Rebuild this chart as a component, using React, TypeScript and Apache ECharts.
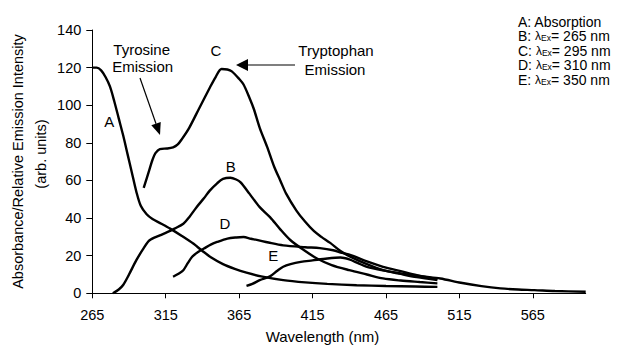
import React, { useEffect, useRef } from "react";
import * as echarts from "echarts";

// Wavelength (nm) / intensity pairs for each trace
const absorption: [number, number][] = [
  [265, 120], [268, 120], [271, 118.5], [274, 115], [277, 110], [280, 102], [283, 93],
  [286, 84], [289, 74], [292, 64], [295, 54], [298, 46.5], [302, 42], [306, 39.5],
  [312, 37], [318, 34.4], [326, 30.5], [334, 26.3], [340, 22.5], [346, 19], [354, 15.5],
  [362, 13], [370, 11], [380, 9], [395, 7], [410, 5.8], [425, 5], [445, 4.3],
  [465, 3.9], [485, 3.6], [500, 3.4],
];

const ex265: [number, number][] = [
  [279, 0], [283, 2], [286, 4.4], [290, 10], [295, 17.6], [300, 24], [304, 28.2],
  [311, 30.8], [316, 32.5], [321, 34.4], [327, 37], [331, 40.5], [336, 45.8],
  [341, 50.5], [345, 54.6], [350, 58.5], [354, 60.8], [359, 61.4], [363, 60.5],
  [366, 59], [372, 53], [379, 45.8], [386, 40.5], [393, 34], [400, 28.2], [409, 23],
  [418, 18.5], [428, 15], [440, 12.3], [452, 10], [463, 7.9], [475, 6.8], [488, 6],
  [500, 5.3],
];

const ex295: [number, number][] = [
  [300, 56], [302, 61], [304, 66], [306, 71], [308, 74.5], [311, 76.7], [316, 77],
  [320, 77.6], [323, 79], [326, 82], [331, 88], [338, 98.7], [345, 109.3], [349, 115],
  [353, 119.3], [357, 119], [360, 118], [365, 114], [368, 111], [372, 104], [375, 98],
  [379, 88], [384, 78], [389, 67], [393, 60], [397, 53], [404, 44], [410, 38],
  [416, 33], [421, 30], [427, 26.8], [434, 22.5], [441, 19.4], [452, 15.5],
  [463, 12.3], [475, 10.3], [486, 8.6], [500, 7],
];

const ex310: [number, number][] = [
  [320, 8.8], [324, 10.5], [327, 12.3], [330, 16], [333, 19.4], [337, 22], [341, 23.8],
  [346, 26], [350, 27.3], [357, 29.1], [363, 29.7], [368, 29.9], [373, 29], [377, 28.4],
  [385, 27], [395, 25.5], [410, 24.5], [420, 24], [429, 22.9], [435, 21.5], [441, 20.3],
  [452, 17], [463, 14.1], [475, 11.8], [486, 9.7], [500, 7.5],
];

const ex350: [number, number][] = [
  [370, 3.9], [374, 5], [379, 7], [386, 9], [391, 12], [395, 14.1], [400, 15.5],
  [407, 16.7], [415, 17.5], [425, 18.5], [434, 19], [440, 18], [446, 16], [452, 14.1],
  [463, 12.2], [475, 10.6], [490, 9], [502, 7.9], [516, 5.6], [530, 3.8], [543, 2.6],
  [555, 2.0], [566, 1.7], [580, 1.2], [601, 0.85],
];

const xTickValues = [265, 315, 365, 415, 465, 515, 565];

const legendLines = [
  "{n|A: Absorption}",
  "{n|B: }{l|λ}{s|Ex}{n|= 265 nm}",
  "{n|C: }{l|λ}{s|Ex}{n|= 295 nm}",
  "{n|D: }{l|λ}{s|Ex}{n|= 310 nm}",
  "{n|E: }{l|λ}{s|Ex}{n|= 350 nm}",
];

const FONT = "'Liberation Sans', Arial, sans-serif";

function arrow(tail: [number, number], tip: [number, number], headLen: number, headHalf: number) {
  const dx = tip[0] - tail[0];
  const dy = tip[1] - tail[1];
  const len = Math.hypot(dx, dy);
  const ux = dx / len;
  const uy = dy / len;
  const bx = tip[0] - ux * headLen;
  const by = tip[1] - uy * headLen;
  const px = -uy * headHalf;
  const py = ux * headHalf;
  return [
    {
      type: "line",
      shape: { x1: tail[0], y1: tail[1], x2: bx, y2: by },
      style: { stroke: "#000", lineWidth: 1.2 },
    },
    {
      type: "polygon",
      shape: { points: [tip, [bx + px, by + py], [bx - px, by - py]] },
      style: { fill: "#000" },
    },
  ];
}

function label(text: string, x: number, y: number, size = 15) {
  return {
    type: "text",
    x,
    y,
    style: {
      text,
      fill: "#000",
      font: `${size}px ${FONT}`,
      textAlign: "center",
      textVerticalAlign: "middle",
    },
  };
}

export default function App() {
  const ref = useRef<HTMLDivElement>(null);

  useEffect(() => {
    document.body.style.margin = "0";
    if (!ref.current) return;
    const chart = echarts.init(ref.current, null, { renderer: "svg" });

    const mk = (name: string, data: [number, number][]) => ({
      name,
      type: "line",
      data,
      smooth: 0.3,
      symbol: "none",
      lineStyle: { color: "#000", width: 2.4 },
      itemStyle: { color: "#000" },
    });

    chart.setOption({
      animation: false,
      backgroundColor: "#fff",
      textStyle: { fontFamily: FONT },
      grid: { left: 92.3, right: 41.3, top: 30, bottom: 51.7, containLabel: false },
      xAxis: {
        type: "value",
        min: 265,
        max: 601,
        interval: 50,
        axisLine: { lineStyle: { color: "#000", width: 1 } },
        axisTick: {
          show: true,
          length: 5,
          inside: false,
          customValues: xTickValues,
          lineStyle: { color: "#000" },
        },
        axisLabel: {
          color: "#000",
          fontSize: 14.5,
          fontFamily: FONT,
          margin: 14,
          customValues: xTickValues,
          formatter: (v: number) => (v <= 565 ? String(v) : ""),
        },
        splitLine: { show: false },
      },
      yAxis: {
        type: "value",
        min: 0,
        max: 140,
        interval: 20,
        axisLine: { show: true, lineStyle: { color: "#000", width: 1 } },
        axisTick: { show: true, length: 6, lineStyle: { color: "#000" } },
        axisLabel: { color: "#000", fontSize: 14.5, fontFamily: FONT, margin: 11 },
        splitLine: { show: false },
      },
      series: [
        mk("A", absorption),
        mk("B", ex265),
        mk("C", ex295),
        mk("D", ex310),
        mk("E", ex350),
      ],
      graphic: [
        // axis titles
        {
          type: "text",
          x: 18.3,
          y: 161.5,
          rotation: Math.PI / 2,
          style: {
            text: "Absorbance/Relative Emission Intensity",
            fill: "#000",
            font: `14.5px ${FONT}`,
            textAlign: "center",
            textVerticalAlign: "middle",
          },
        },
        {
          type: "text",
          x: 40.7,
          y: 154,
          rotation: Math.PI / 2,
          style: {
            text: "(arb. units)",
            fill: "#000",
            font: `14.5px ${FONT}`,
            textAlign: "center",
            textVerticalAlign: "middle",
          },
        },
        label("Wavelength (nm)", 322.5, 336.7, 15),
        // curve letters
        label("A", 109.3, 121.7),
        label("B", 230.7, 166.7),
        label("C", 216, 50),
        label("D", 225, 223.3),
        label("E", 273.3, 255),
        // annotations
        label("Tyrosine", 141.7, 49.3),
        label("Emission", 142.7, 66.7),
        label("Tryptophan", 336, 50.7),
        label("Emission", 335, 69.3),
        ...arrow([140, 78], [160, 135], 12, 5),
        ...arrow([295, 65], [236, 65], 12, 6),
        // key
        ...legendLines.map((t, i) => ({
          type: "text",
          x: 518,
          y: 21.5 + i * 14.5,
          style: {
            text: t,
            fill: "#000",
            textAlign: "left",
            textVerticalAlign: "middle",
            rich: {
              n: { fontSize: 14, fontFamily: FONT, fill: "#000", lineHeight: 13 },
              l: { fontSize: 12, fontFamily: FONT, fill: "#000", lineHeight: 13 },
              s: { fontSize: 8.5, fontFamily: FONT, fill: "#000", lineHeight: 6, verticalAlign: "bottom" },
            },
          },
        })),
      ],
    });

    return () => chart.dispose();
  }, []);

  return <div ref={ref} style={{ width: 627, height: 345 }} />;
}
